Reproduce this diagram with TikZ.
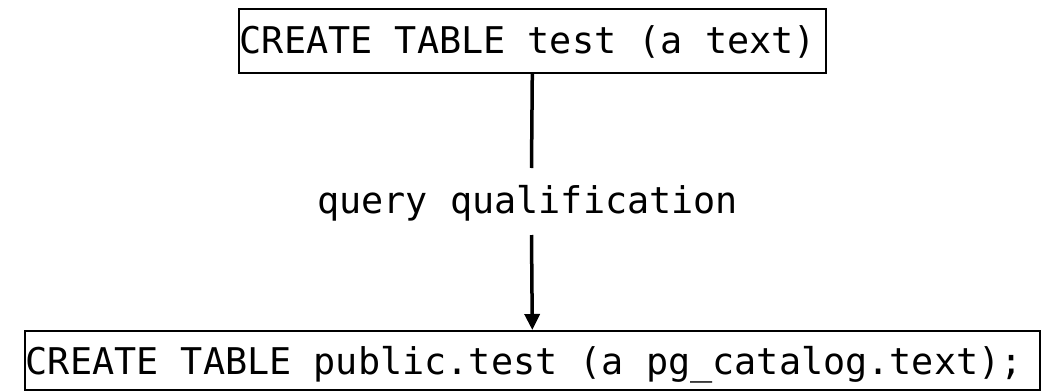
\documentclass[tikz,border=0pt]{standalone}
\usepackage{fontspec}
\setmonofont{DejaVu Sans Mono}
\usetikzlibrary{arrows.meta}
\begin{document}
\begin{tikzpicture}[x=1pt,y=-1pt,
  codebox/.style={draw, line width=1.6pt, inner xsep=1pt, inner ysep=0pt,
    anchor=north west, font=\ttfamily\fontsize{36.8}{40}\selectfont},
  lbltext/.style={inner sep=0pt, anchor=base west, font=\ttfamily\fontsize{36.8}{40}\selectfont},
  conn/.style={line width=3.5pt},
  connarrow/.style={line width=3.5pt, -{Triangle[length=16pt,width=15pt]}}]
\useasboundingbox (0,0) rectangle (1041,391);
\node[codebox, text height=45pt, text depth=19pt] (top) at (238,8) {\makebox[585pt][l]{CREATE TABLE test (a text)}};
\node[codebox, text height=44pt, text depth=15pt] (bot) at (24,330) {\makebox[1013pt][l]{CREATE TABLE public.test (a pg\_catalog.text);}};
\node[lbltext] (lbl) at (317,213) {query qualification};
\coordinate (gapA) at (531.5,168);
\coordinate (gapB) at (531.5,235);
\draw[conn] (top.south) -- (gapA);
\draw[connarrow] (gapB) -- (bot.north);
\end{tikzpicture}
\end{document}
